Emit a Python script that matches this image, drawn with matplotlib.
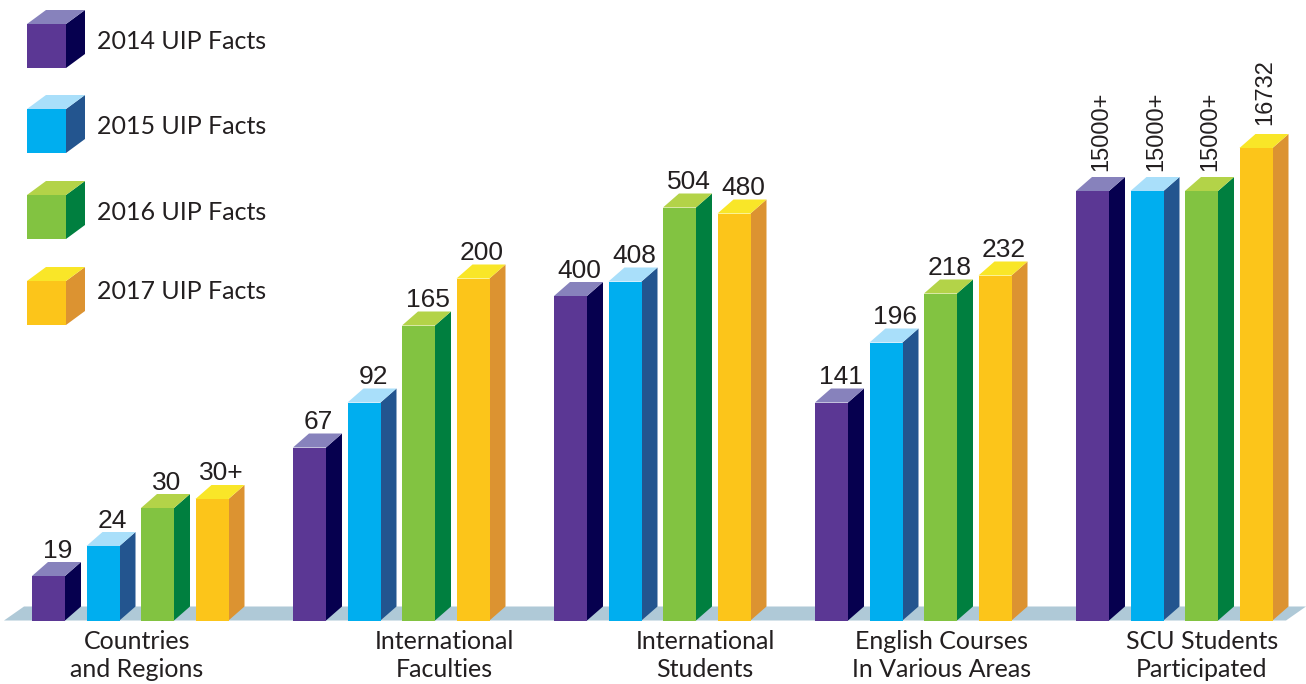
import matplotlib
matplotlib.use("Agg")
import matplotlib.pyplot as plt

# ---- data ----
categories = ["Countries\nand Regions", "International\nFaculties", "International\nStudents",
              "English Courses\nIn Various Areas", "SCU Students\nParticipated"]
series_names = ["2014 UIP Facts", "2015 UIP Facts", "2016 UIP Facts", "2017 UIP Facts"]
# bar heights as drawn (the picture does not use one common scale)
heights_2014 = [44.5, 173, 324.5, 218, 429.5]
heights_2015 = [74.5, 218, 339, 278, 429.5]
heights_2016 = [112.5, 295, 413, 327, 429.5]
heights_2017 = [121.5, 342, 407, 345, 472.5]
# value labels as printed
labels_2014 = ["19", "67", "400", "141", "15000+"]
labels_2015 = ["24", "92", "408", "196", "15000+"]
labels_2016 = ["30", "165", "504", "218", "15000+"]
labels_2017 = ["30+", "200", "480", "232", "16732"]

heights = [heights_2014, heights_2015, heights_2016, heights_2017]
labels = [labels_2014, labels_2015, labels_2016, labels_2017]

# ---- style ----
front = ["#5B3794", "#00AEEF", "#82C341", "#FCC51A"]
side = ["#06004F", "#23558F", "#007F3F", "#DC9331"]
top = ["#8782BC", "#A9DFFA", "#B3D348", "#F9E628"]
floor = "#AFC9D7"
text_col = "#231F20"
BASE_PX = 620.5
W, H = 1306, 684
BW, DX, DY = 33, 16, 14
group_x = [32, 293, 554, 815, 1076]
STEP = 54.5

fig = plt.figure(figsize=(W / 100, H / 100), dpi=100, facecolor="white")
ax = fig.add_axes([0, 0, 1, 1])
ax.set_xlim(0, W)
ax.set_ylim(BASE_PX - H, BASE_PX)
ax.axis("off")

ax.fill([4, 24, 1306, 1286], [0, DY, DY, 0], color=floor, lw=0, zorder=1)


def cube(x, y0, w, h, dx, dy, i, z):
    ax.bar(x, h, width=w, bottom=y0, align="edge", color=front[i], lw=0, zorder=z + 0.2)
    ax.fill([x + w, x + w + dx, x + w + dx, x + w],
            [y0, y0 + dy, y0 + h + dy, y0 + h], color=side[i], lw=0, zorder=z)
    ax.fill([x, x + dx, x + w + dx, x + w],
            [y0 + h, y0 + h + dy, y0 + h + dy, y0 + h], color=top[i], lw=0, zorder=z)


for s in range(4):
    for g, cx in enumerate(group_x):
        x = cx + s * STEP
        h = heights[s][g]
        cube(x, 0, BW, h, DX, DY, s, 2 + s)
        lab = labels[s][g]
        tx = x + BW / 2 + DX / 2
        if len(lab) >= 5:
            gap = 6 if lab.endswith("+") else 9
            ax.text(tx + 1, h + DY + gap, lab, rotation=90, ha="center", va="bottom",
                    family="Liberation Sans", fontsize=17, color=text_col, zorder=10)
        else:
            ax.text(tx + 1, h + DY + 4.5, lab, ha="center", va="baseline",
                    family="Liberation Sans", fontsize=19, color=text_col, zorder=10)

cat_x = [137, 444, 705, 941.5, 1202]
for cx, c in zip(cat_x, categories):
    ax.text(cx, BASE_PX - 655.5, c, ha="center", va="center", family="Lato", fontsize=18,
            color=text_col, linespacing=1.27, zorder=10)

# legend
leg_bottom_px = [68, 153, 239, 325]
leg_text_px = [40, 125, 211, 290]
for i, name in enumerate(series_names):
    cube(27, BASE_PX - leg_bottom_px[i], 39, 44, 19, 14, i, 2)
    ax.text(97, BASE_PX - leg_text_px[i] - 1.5, name, ha="left", va="center", family="Lato",
            fontsize=18, color=text_col, zorder=10)

fig.savefig("out.png", dpi=100, facecolor="white")
